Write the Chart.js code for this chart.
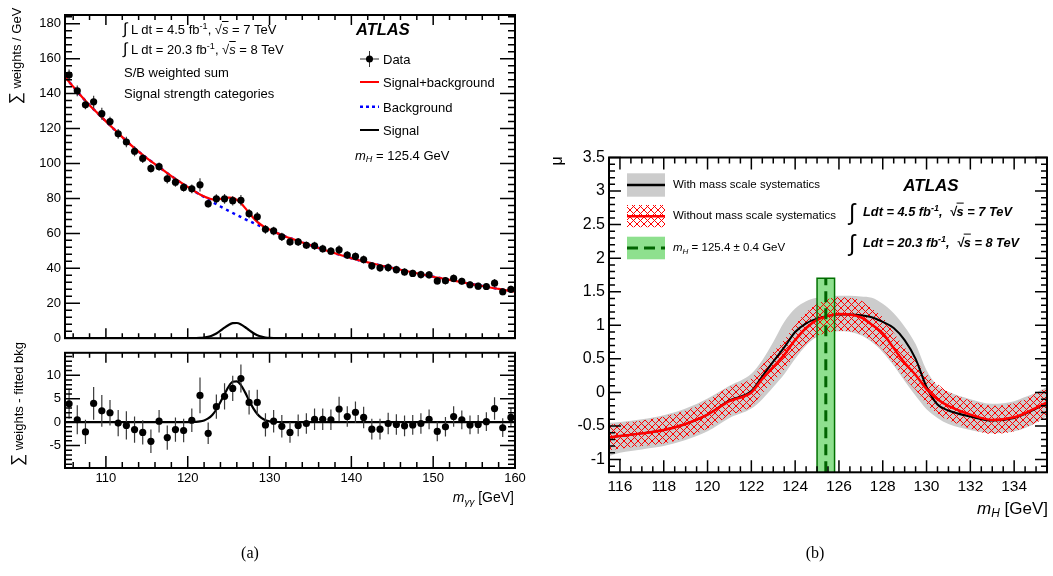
<!DOCTYPE html>
<html lang="en">
<head>
<meta charset="UTF-8" />
<title>Diphoton mass spectrum and signal strength vs mH</title>
<script src="https://cdn.jsdelivr.net/npm/chart.js"></script>
<style>
  body {
    margin: 0;
    width: 1053px;
    height: 576px;
    position: relative;
    overflow: hidden;
    background: #fff;
    color: #000;
    font-family: "Liberation Sans", Arial, Helvetica, sans-serif;
  }
  canvas { position: absolute; }
  #topPlot { left: 0; top: 0; }
  #resPlot { left: 0; top: 341px; }
  #muPlot { left: 540px; top: 140px; }
  #marks { position: absolute; left: 0; top: 0; }
  .t { position: absolute; white-space: nowrap; line-height: 1; transform: translateY(-50%); }
  .tr { position: absolute; white-space: nowrap; line-height: 1; transform: translate(-100%, -50%); }
  .tc { position: absolute; white-space: nowrap; line-height: 1; transform: translate(-50%, -50%); }
  .rot { position: absolute; white-space: nowrap; line-height: 1; transform: translate(-50%, -50%) rotate(-90deg); }
  sup { font-size: 0.7em; line-height: 0; vertical-align: 0.5em; }
  sub { font-size: 0.7em; line-height: 0; vertical-align: -0.3em; }
  .ov { text-decoration: overline; }
  .bi { font-weight: bold; font-style: italic; }
  .serif { font-family: "Liberation Serif", "Times New Roman", serif; }
</style>
</head>
<body>

<canvas id="topPlot" width="530" height="350"></canvas>
<canvas id="resPlot" width="530" height="160"></canvas>
<canvas id="muPlot" width="513" height="380"></canvas>

<svg id="marks" width="1053" height="576">
  <defs>
    <pattern id="hatch" width="7" height="7" patternUnits="userSpaceOnUse">
      <path d="M0 0L7 7M7 0L0 7" stroke="#ff0000" stroke-width="1" fill="none"/>
    </pattern>
  </defs>
  <!-- legend (a) -->
  <line x1="360" y1="59" x2="379" y2="59" stroke="#333" stroke-width="1"/>
  <line x1="369.5" y1="51" x2="369.5" y2="67" stroke="#333" stroke-width="1"/>
  <circle cx="369.5" cy="59" r="3.5" fill="#000"/>
  <line x1="360" y1="82" x2="379" y2="82" stroke="#ff0000" stroke-width="2"/>
  <line x1="360" y1="106.7" x2="379" y2="106.7" stroke="#0000ff" stroke-width="2.5" stroke-dasharray="3 3"/>
  <line x1="360" y1="130" x2="379" y2="130" stroke="#000" stroke-width="2"/>
  <!-- legend (b) -->
  <rect x="627" y="173.3" width="38" height="23.4" fill="#cccccc"/>
  <line x1="627" y1="185" x2="665" y2="185" stroke="#000" stroke-width="2.5"/>
  <rect x="627" y="205" width="38" height="22.3" fill="url(#hatch)"/>
  <line x1="627" y1="216.3" x2="665" y2="216.3" stroke="#ff0000" stroke-width="2.5"/>
  <rect x="627" y="236.7" width="38" height="22.6" fill="#8ee08e"/>
  <line x1="627" y1="248" x2="665" y2="248" stroke="#006400" stroke-width="3" stroke-dasharray="11 6"/>
</svg>

<!-- panel (a) texts -->
<div class="rot" style="left:15px;top:56px;font-size:13px"><span style="font-size:17px">&sum;</span> weights / GeV</div>
<div class="rot" style="left:17px;top:404px;font-size:13px"><span style="font-size:17px">&sum;</span> weights - fitted bkg</div>
<div class="t" style="left:123px;top:29px;font-size:13px"><span style="font-size:16px">&int;</span> L dt = 4.5 fb<sup>-1</sup>, &radic;<i class="ov">s</i> = 7 TeV</div>
<div class="t" style="left:123px;top:49px;font-size:13px"><span style="font-size:16px">&int;</span> L dt = 20.3 fb<sup>-1</sup>, &radic;<i class="ov">s</i> = 8 TeV</div>
<div class="t" style="left:124px;top:72px;font-size:13px">S/B weighted sum</div>
<div class="t" style="left:124px;top:93px;font-size:13px">Signal strength categories</div>
<div class="t bi" style="left:356px;top:29px;font-size:16.5px">ATLAS</div>
<div class="t" style="left:383px;top:59px;font-size:13px">Data</div>
<div class="t" style="left:383px;top:82px;font-size:13px">Signal+background</div>
<div class="t" style="left:383px;top:106.7px;font-size:13px">Background</div>
<div class="t" style="left:383px;top:130px;font-size:13px">Signal</div>
<div class="t" style="left:355px;top:155px;font-size:13px"><i>m<sub>H</sub></i> = 125.4 GeV</div>
<div class="tr" style="left:514px;top:497px;font-size:14px"><i>m<sub>&gamma;&gamma;</sub></i> [GeV]</div>
<div class="tc serif" style="left:250px;top:553px;font-size:16px">(a)</div>

<!-- panel (b) texts -->
<div class="rot" style="left:557px;top:161px;font-size:16px">&mu;</div>
<div class="t" style="left:673px;top:184.5px;font-size:11.5px">With mass scale systematics</div>
<div class="t" style="left:673px;top:216.3px;font-size:11.5px">Without mass scale systematics</div>
<div class="t" style="left:673px;top:248px;font-size:11.5px"><i>m<sub>H</sub></i> = 125.4 &plusmn; 0.4 GeV</div>
<div class="tc bi" style="left:931px;top:184.5px;font-size:17px">ATLAS</div>
<div class="t" style="left:849px;top:212px;font-size:23px">&int;</div>
<div class="t bi" style="left:863px;top:212px;font-size:12.8px">Ldt = 4.5 fb<sup>-1</sup>,&nbsp; &radic;<span class="ov">s</span> = 7 TeV</div>
<div class="t" style="left:849px;top:243px;font-size:23px">&int;</div>
<div class="t bi" style="left:863px;top:243px;font-size:12.8px">Ldt = 20.3 fb<sup>-1</sup>,&nbsp; &radic;<span class="ov">s</span> = 8 TeV</div>
<div class="tr" style="left:1048px;top:508px;font-size:17px"><i>m<sub>H</sub></i> [GeV]</div>
<div class="tc serif" style="left:815px;top:553px;font-size:16px">(b)</div>

<script>
const FONT = '"Liberation Sans", Arial, Helvetica, sans-serif';

// (a) S/B weighted diphoton mass distribution, 1 GeV bins
const massBins = [105.5, 106.5, 107.5, 108.5, 109.5, 110.5, 111.5, 112.5, 113.5, 114.5,
  115.5, 116.5, 117.5, 118.5, 119.5, 120.5, 121.5, 122.5, 123.5, 124.5,
  125.5, 126.5, 127.5, 128.5, 129.5, 130.5, 131.5, 132.5, 133.5, 134.5,
  135.5, 136.5, 137.5, 138.5, 139.5, 140.5, 141.5, 142.5, 143.5, 144.5,
  145.5, 146.5, 147.5, 148.5, 149.5, 150.5, 151.5, 152.5, 153.5, 154.5,
  155.5, 156.5, 157.5, 158.5, 159.5];
const weightedSum = [150.6, 141.6, 133.6, 135.3, 128.5, 124.0, 117.0, 112.3, 107.0, 102.9,
  97.2, 98.2, 91.2, 89.3, 86.3, 85.5, 87.8, 77.0, 79.8, 79.8,
  78.7, 78.9, 71.3, 69.5, 62.3, 61.4, 58.0, 55.1, 55.1, 53.2,
  52.9, 51.2, 49.8, 50.6, 47.6, 46.8, 45.0, 41.4, 40.3, 40.4,
  39.2, 37.9, 37.1, 36.4, 36.3, 32.8, 32.9, 34.2, 32.6, 30.6,
  29.8, 29.6, 31.5, 26.6, 28.0];
const weightedErr = [3.2, 3.1, 2.6, 3.5, 3.4, 2.7, 2.8, 3.0, 2.8, 2.6,
  2.5, 2.4, 2.6, 2.6, 2.5, 2.5, 3.8, 2.3, 2.6, 2.8,
  2.7, 3.0, 2.6, 2.7, 2.5, 2.4, 2.4, 2.2, 2.3, 2.2,
  2.3, 2.3, 2.2, 2.6, 2.2, 2.3, 2.3, 2.2, 2.2, 2.3,
  2.2, 2.2, 2.1, 2.2, 2.1, 2.1, 2.1, 2.2, 2.0, 2.0,
  2.0, 2.0, 2.4, 2.0, 2.0];
const residual = [3.9, 0.5, -2.1, 4.0, 2.4, 2.0, -0.2, -0.7, -1.6, -2.2,
  -4.1, 0.2, -3.3, -1.6, -1.8, 0.4, 5.7, -2.4, 3.3, 5.5,
  7.2, 9.3, 4.2, 4.2, -0.6, 0.2, -0.9, -2.2, -0.7, -0.3,
  0.6, 0.6, 0.5, 2.8, 1.2, 2.1, 1.0, -1.5, -1.5, -0.3,
  -0.5, -0.8, -0.6, -0.3, 0.6, -2.0, -1.0, 1.2, 0.5, -0.6,
  -0.5, 0.1, 2.9, -1.2, 1.0];

// fitted curves
const bkgMass = [105, 106, 107, 108, 109, 110, 111, 112, 113, 114, 115, 116, 117, 118, 119,
  120, 121, 122, 123, 124, 125, 126, 127, 128, 129, 130, 131, 132, 133, 134, 135, 136, 137,
  138, 139, 140, 141, 142, 143, 144, 145, 146, 147, 148, 149, 150, 151, 152, 153, 154, 155,
  156, 157, 158, 159, 160];
const bkgFit = [149.5, 144.0, 138.5, 133.4, 128.7, 124.1, 119.6, 115.1, 110.8, 106.8,
  103.1, 99.6, 96.2, 92.8, 89.6, 86.6, 83.6, 80.8, 78.0, 75.4,
  72.9, 70.5, 68.2, 66.0, 63.9, 62.0, 60.0, 58.1, 56.5, 54.8,
  53.2, 51.6, 50.1, 48.6, 47.2, 45.8, 44.5, 43.4, 42.3, 41.2,
  40.2, 39.2, 38.2, 37.2, 36.2, 35.2, 34.3, 33.4, 32.5, 31.6,
  30.7, 29.9, 29.0, 28.2, 27.4, 26.6];
const sbMass = [105, 106, 107, 108, 109, 110, 111, 112, 113, 114, 115, 116, 117, 118, 119,
  119.5, 120, 120.5, 121, 121.5, 122, 122.5, 123, 123.5, 124, 124.5, 125, 125.5, 126, 126.5,
  127, 127.5, 128, 128.5, 129, 129.5, 130, 130.5, 131, 131.5,
  132, 133, 134, 135, 136, 137, 138, 139, 140, 141, 142, 143, 144, 145, 146, 147, 148, 149,
  150, 151, 152, 153, 154, 155, 156, 157, 158, 159, 160];
const sbFit = [149.5, 144.0, 138.5, 133.4, 128.7, 124.1, 119.6, 115.1, 110.8, 106.8,
  103.1, 99.6, 96.2, 92.8, 89.6,
  88.1, 86.6, 85.1, 83.65, 82.3, 81.2, 80.2, 79.5, 79.4, 79.7, 80.1, 80.5, 80.3, 79.2, 77.2,
  74.6, 71.7, 69.0, 66.6, 64.8, 63.3, 62.2, 61.1, 60.0, 59.05,
  58.1, 56.5, 54.8, 53.2, 51.6, 50.1, 48.6, 47.2, 45.8, 44.5, 43.4, 42.3, 41.2, 40.2, 39.2,
  38.2, 37.2, 36.2, 35.2, 34.3, 33.4, 32.5, 31.6, 30.7, 29.9, 29.0, 28.2, 27.4, 26.6];
const sigMass = [105, 118, 119, 119.5, 120, 120.5, 121, 121.5, 122, 122.5, 123, 123.5, 124,
  124.5, 125, 125.5, 126, 126.5, 127, 127.5, 128, 128.5, 129, 129.5, 130, 130.5, 131, 131.5,
  132, 133, 160];
const sigFit = [0, 0, 0, 0, 0, 0.02, 0.05, 0.14, 0.36, 0.78, 1.54, 2.7, 4.3,
  6.0, 7.6, 8.6, 8.7, 7.9, 6.4, 4.6, 3.0, 1.74, 0.9, 0.42, 0.17, 0.06, 0.02, 0,
  0, 0, 0];
const massTicks = [110, 120, 130, 140, 150, 160];
const weightTicks = [0, 20, 40, 60, 80, 100, 120, 140, 160, 180];
const residTicks = [-5, 0, 5, 10];

// (b) signal strength vs hypothesised mH
const muMass = [115.5, 116, 117, 118, 119, 120, 121, 122, 122.5, 123, 123.5, 124, 124.5, 125,
  125.5, 126, 126.5, 127, 127.5, 128, 128.5, 129, 129.5, 130, 130.5, 131, 132, 133, 134,
  134.5, 135, 135.5];
const muWith = [-0.67, -0.65, -0.61, -0.56, -0.47, -0.33, -0.12, 0.02, 0.24, 0.46, 0.67, 0.9,
  1.03, 1.1, 1.14, 1.16, 1.16, 1.15, 1.12, 1.05, 0.96, 0.78, 0.5, 0.08, -0.18, -0.27, -0.36,
  -0.42, -0.38, -0.32, -0.24, -0.16];
const muWithHi = [-0.45, -0.44, -0.4, -0.34, -0.24, -0.09, 0.1, 0.28, 0.48, 0.75, 1.05, 1.25,
  1.36, 1.41, 1.43, 1.44, 1.44, 1.43, 1.41, 1.32, 1.18, 0.98, 0.72, 0.33, 0.1, 0.01, -0.1,
  -0.17, -0.13, -0.07, 0.0, 0.08];
const muWithLo = [-0.95, -0.9, -0.85, -0.8, -0.71, -0.58, -0.38, -0.24, -0.1, 0.08, 0.27, 0.5,
  0.7, 0.83, 0.89, 0.91, 0.9, 0.85, 0.75, 0.6, 0.4, 0.17, -0.05, -0.25, -0.38, -0.47, -0.56,
  -0.61, -0.58, -0.53, -0.45, -0.35];
const muNoSyst = [-0.67, -0.65, -0.61, -0.56, -0.47, -0.33, -0.13, 0.0, 0.2, 0.38, 0.56, 0.78,
  0.96, 1.08, 1.14, 1.17, 1.16, 1.12, 1.01, 0.88, 0.66, 0.44, 0.26, 0.05, -0.1, -0.2, -0.33,
  -0.41, -0.37, -0.31, -0.23, -0.15];
const muNoSystHi = [-0.48, -0.46, -0.42, -0.36, -0.27, -0.12, 0.08, 0.21, 0.41, 0.6, 0.78, 1.01,
  1.19, 1.32, 1.39, 1.42, 1.41, 1.37, 1.25, 1.12, 0.89, 0.67, 0.48, 0.27, 0.12, 0.01, -0.12,
  -0.2, -0.16, -0.1, -0.01, 0.08];
const muNoSystLo = [-0.86, -0.84, -0.8, -0.76, -0.67, -0.54, -0.34, -0.21, -0.01, 0.16, 0.34, 0.55,
  0.73, 0.84, 0.89, 0.92, 0.91, 0.87, 0.77, 0.64, 0.43, 0.21, 0.04, -0.17, -0.32, -0.41, -0.54,
  -0.62, -0.58, -0.52, -0.45, -0.38];
const mHBest = 125.4;
const mHErr = 0.4;
const mHBandTop = 1.7;
const muAxisMin = -1.19;
const muTicksX = [116, 118, 120, 122, 124, 126, 128, 130, 132, 134];
const muTicksY = [-1, -0.5, 0, 0.5, 1, 1.5, 2, 2.5, 3, 3.5];

const pts = (xs, ys) => xs.map((x, i) => ({ x: x, y: ys[i] }));
const fixTicks = (values) => (scale) => { scale.ticks = values.map((v) => ({ value: v })); };

// ROOT style frame with inward ticks on all four sides
const frameTicks = {
  id: 'frameTicks',
  afterDraw(chart, args, opt) {
    const { ctx, chartArea: a } = chart;
    const each = (scale, spec, fn) => {
      const i0 = Math.ceil(scale.min / spec.minor - 1e-6);
      const i1 = Math.floor(scale.max / spec.minor + 1e-6);
      for (let i = i0; i <= i1; i++) {
        const v = i * spec.minor;
        const r = v / spec.major;
        fn(scale.getPixelForValue(v), Math.abs(r - Math.round(r)) < 1e-6);
      }
    };
    ctx.save();
    ctx.strokeStyle = '#000';
    ctx.lineWidth = 1.5;
    ctx.beginPath();
    each(chart.scales.x, opt.x, (p, major) => {
      const lb = opt.x.bottom[major ? 0 : 1];
      const lt = opt.x.top[major ? 0 : 1];
      ctx.moveTo(p, a.bottom); ctx.lineTo(p, a.bottom - lb);
      ctx.moveTo(p, a.top); ctx.lineTo(p, a.top + lt);
    });
    each(chart.scales.y, opt.y, (p, major) => {
      const l = opt.y.len[major ? 0 : 1];
      ctx.moveTo(a.left, p); ctx.lineTo(a.left + l, p);
      ctx.moveTo(a.right, p); ctx.lineTo(a.right - l, p);
    });
    ctx.stroke();
    ctx.lineWidth = 2;
    ctx.strokeRect(a.left, a.top, a.right - a.left, a.bottom - a.top);
    ctx.restore();
  }
};

// vertical error bars under the data markers
const errorBars = {
  id: 'errorBars',
  beforeDatasetDraw(chart, args) {
    const ds = chart.data.datasets[args.index];
    if (!ds.errors) return;
    const { ctx } = chart;
    const ys = chart.scales.y;
    ctx.save();
    ctx.strokeStyle = '#3a3a3a';
    ctx.lineWidth = 1.2;
    ctx.beginPath();
    args.meta.data.forEach((pt, i) => {
      const v = ds.data[i].y, e = ds.errors[i];
      ctx.moveTo(pt.x, ys.getPixelForValue(v + e));
      ctx.lineTo(pt.x, ys.getPixelForValue(v - e));
    });
    ctx.stroke();
    ctx.restore();
  }
};

const noGrid = { display: false, drawTicks: false };
const noBorder = { display: false };
const tickFont = (size) => ({ size: size, family: FONT });
const label = (v) => String(Math.round(v * 10) / 10);

const baseOptions = {
  responsive: false,
  animation: false,
  events: [],
  plugins: { legend: { display: false }, tooltip: { enabled: false } }
};

// top of (a)
new Chart(document.getElementById('topPlot'), {
  type: 'line',
  data: {
    datasets: [
      { label: 'Data', data: pts(massBins, weightedSum), errors: weightedErr, showLine: false,
        pointRadius: 3.6, pointBackgroundColor: '#000', pointBorderColor: '#000', pointBorderWidth: 0 },
      { label: 'Signal+background', data: pts(sbMass, sbFit), borderColor: '#ff0000', borderWidth: 2.2,
        pointRadius: 0, cubicInterpolationMode: 'monotone' },
      { label: 'Background', data: pts(bkgMass, bkgFit), borderColor: '#0000ff', borderWidth: 2.5,
        borderDash: [3, 4], pointRadius: 0, cubicInterpolationMode: 'monotone' },
      { label: 'Signal', data: pts(sigMass, sigFit), borderColor: '#000', borderWidth: 2.2,
        pointRadius: 0, cubicInterpolationMode: 'monotone' }
    ]
  },
  options: {
    ...baseOptions,
    layout: { padding: { left: 0, top: 15, right: 15, bottom: 0 } },
    plugins: {
      ...baseOptions.plugins,
      frameTicks: { x: { major: 10, minor: 2, bottom: [10, 5], top: [10, 5] },
                    y: { major: 20, minor: 4, len: [15, 7] } }
    },
    scales: {
      x: { type: 'linear', min: 105, max: 160, ticks: { display: false }, grid: noGrid, border: noBorder,
           afterFit: (s) => { s.height = 8.3; } },
      y: { type: 'linear', min: 0, max: 185, afterBuildTicks: fixTicks(weightTicks),
           ticks: { padding: 4, color: '#000', font: tickFont(13), callback: label },
           grid: noGrid, border: noBorder, afterFit: (s) => { s.width = 65; } }
    }
  },
  plugins: [frameTicks, errorBars]
});

// bottom of (a): data minus fitted background
new Chart(document.getElementById('resPlot'), {
  type: 'line',
  data: {
    datasets: [
      { label: 'Data - bkg', data: pts(massBins, residual), errors: weightedErr, showLine: false,
        pointRadius: 3.6, pointBackgroundColor: '#000', pointBorderColor: '#000', pointBorderWidth: 0 },
      { label: 'Signal', data: pts(sigMass, sigFit), borderColor: '#000', borderWidth: 2.2,
        pointRadius: 0, cubicInterpolationMode: 'monotone' }
    ]
  },
  options: {
    ...baseOptions,
    layout: { padding: { left: 0, top: 2, right: 15, bottom: 0 } },
    plugins: {
      ...baseOptions.plugins,
      frameTicks: { x: { major: 10, minor: 2, bottom: [12, 6], top: [10, 5] },
                    y: { major: 5, minor: 1, len: [15, 7] } }
    },
    scales: {
      x: { type: 'linear', min: 105, max: 160, afterBuildTicks: fixTicks(massTicks),
           ticks: { padding: 3, color: '#000', font: tickFont(13), callback: label, autoSkip: false, maxRotation: 0 },
           grid: noGrid, border: noBorder, afterFit: (s) => { s.height = 33; } },
      y: { type: 'linear', min: -9.8, max: 14.8, afterBuildTicks: fixTicks(residTicks),
           ticks: { padding: 4, color: '#000', font: tickFont(13), callback: label },
           grid: noGrid, border: noBorder, afterFit: (s) => { s.width = 65; } }
    }
  },
  plugins: [frameTicks, errorBars]
});

// (b) signal strength scan
const muCanvas = document.getElementById('muPlot');
function hatchPattern(ctx) {
  const tile = document.createElement('canvas');
  tile.width = 7; tile.height = 7;
  const g = tile.getContext('2d');
  g.strokeStyle = '#ff0000';
  g.lineWidth = 1;
  g.beginPath();
  g.moveTo(0, 0); g.lineTo(7, 7);
  g.moveTo(7, 0); g.lineTo(0, 7);
  g.stroke();
  return ctx.createPattern(tile, 'repeat');
}
const hatch = hatchPattern(muCanvas.getContext('2d'));
const bandX = [mHBest - mHErr, mHBest + mHErr];
const flat = { pointRadius: 0, borderWidth: 0 };

new Chart(muCanvas, {
  type: 'line',
  data: {
    datasets: [
      { label: 'mH best fit', data: [{ x: mHBest, y: muAxisMin }, { x: mHBest, y: mHBandTop }],
        borderColor: '#006400', borderWidth: 3, borderDash: [11, 6], pointRadius: 0 },
      { label: 'mH band edge', data: [{ x: bandX[0], y: muAxisMin }, { x: bandX[0], y: mHBandTop },
        { x: bandX[1], y: mHBandTop }, { x: bandX[1], y: muAxisMin }],
        borderColor: '#007000', borderWidth: 1.5, pointRadius: 0 },
      { label: 'Without mass scale systematics', data: pts(muMass, muNoSyst), borderColor: '#ff0000',
        borderWidth: 2.5, pointRadius: 0, cubicInterpolationMode: 'monotone' },
      { label: 'With mass scale systematics', data: pts(muMass, muWith), borderColor: '#000',
        borderWidth: 2, pointRadius: 0, cubicInterpolationMode: 'monotone' },
      { label: 'no syst hi', data: pts(muMass, muNoSystHi), fill: '+1', backgroundColor: hatch,
        cubicInterpolationMode: 'monotone', ...flat },
      { label: 'no syst lo', data: pts(muMass, muNoSystLo), cubicInterpolationMode: 'monotone', ...flat },
      { label: 'mH band', data: [{ x: bandX[0], y: mHBandTop }, { x: bandX[1], y: mHBandTop }],
        fill: '+1', backgroundColor: '#8ee08e', ...flat },
      { label: 'mH band lo', data: [{ x: bandX[0], y: muAxisMin }, { x: bandX[1], y: muAxisMin }], ...flat },
      { label: 'with syst hi', data: pts(muMass, muWithHi), fill: '+1', backgroundColor: '#cccccc',
        cubicInterpolationMode: 'monotone', ...flat },
      { label: 'with syst lo', data: pts(muMass, muWithLo), cubicInterpolationMode: 'monotone', ...flat }
    ]
  },
  options: {
    ...baseOptions,
    layout: { padding: { left: 0, top: 17.5, right: 6, bottom: 0 } },
    plugins: {
      ...baseOptions.plugins,
      frameTicks: { x: { major: 2, minor: 0.5, bottom: [12, 6], top: [12, 6] },
                    y: { major: 0.5, minor: 0.1, len: [12, 6] } }
    },
    scales: {
      x: { type: 'linear', min: 115.5, max: 135.5, afterBuildTicks: fixTicks(muTicksX),
           ticks: { padding: 5, color: '#000', font: tickFont(15.5), callback: label, autoSkip: false, maxRotation: 0 },
           grid: noGrid, border: noBorder, afterFit: (s) => { s.height = 47.7; } },
      y: { type: 'linear', min: muAxisMin, max: 3.5, afterBuildTicks: fixTicks(muTicksY),
           ticks: { padding: 4, color: '#000', font: tickFont(16), callback: label },
           grid: noGrid, border: noBorder, afterFit: (s) => { s.width = 69; } }
    }
  },
  plugins: [frameTicks]
});
</script>
</body>
</html>
